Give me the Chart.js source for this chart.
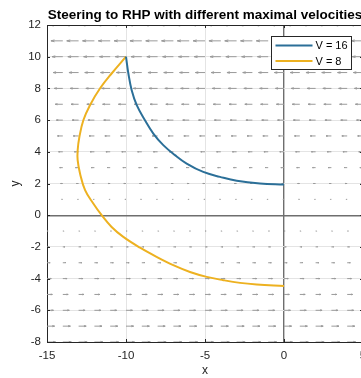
<!DOCTYPE html>
<html>
<head>
<meta charset="utf-8">
<title>Steering to RHP</title>
<script src="https://cdn.jsdelivr.net/npm/chart.js@4"></script>
<style>
    html, body { margin: 0; padding: 0; background: #fff; overflow: hidden; }
    #wrap { width: 380px; height: 378px; }
</style>
</head>
<body>
<div id="wrap"><canvas id="chart" width="380" height="378"></canvas></div>
<script>
// Steering trajectories

// V = 16 trajectory
const fastX = [-10, -9.85, -9.64, -9.32, -8.80, -8.27, -7.64, -6.90, -6.16, -5.11, -4.05, -2.99, -1.52, 0];
const fastY = [10, 8.94, 7.89, 6.94, 5.99, 5.15, 4.42, 3.79, 3.26, 2.73, 2.42, 2.17, 2.00, 1.94];

// V = 8 trajectory
const slowX = [-10, -10.91, -11.65, -12.28, -12.70, -12.95, -13.06, -13.06, -12.91, -12.59, -12.07, -11.54, -10.91, -10.17, -9.11, -8.06, -7.01, -5.95, -4.89, -3.84, -2.78, -1.73, 0];
const slowY = [10, 8.94, 7.99, 6.94, 5.99, 4.94, 4.10, 3.47, 2.63, 1.58, 0.74, 0, -0.74, -1.37, -2.05, -2.63, -3.15, -3.58, -3.89, -4.10, -4.27, -4.37, -4.47];

// Quiver field: grid columns, rows and the horizontal arrow length per row
const quiverX = [-15, -14, -13, -12, -11, -10, -9, -8, -7, -6, -5, -4, -3, -2, -1, 0, 1, 2, 3, 4, 5];
const quiverY = [12, 11, 10, 9, 8, 7, 6, 5, 4, 3, 2, 1, 0, -1, -2, -3, -4, -5, -6, -7, -8];
const quiverU = [-0.82, -0.75, -0.68, -0.61, -0.54, -0.48, -0.41, -0.34, -0.27, -0.20, -0.14, -0.07, 0,
                 0.07, 0.14, 0.20, 0.27, 0.34, 0.41, 0.48, 0.54];

// Tick labels
const xTickValues = [-15, -10, -5, 0, 5];
const yTickValues = [-8, -6, -4, -2, 0, 2, 4, 6, 8, 10, 12];

const FONT = "'Liberation Sans', Arial, Helvetica, sans-serif";
const BLUE = '#2b6f98';
const YELLOW = '#edb120';
const INK = '#262626';

// Build arrow segments (shaft + two barbs), gaps between arrows
function buildQuiver() {
    const pts = [];
    const gap = { x: NaN, y: NaN };
    quiverY.forEach((yv, r) => {
        const u = quiverU[r];
        if (u === 0) return;
        quiverX.forEach(xv => {
            const hx = xv + u;
            const back = 0.3 * u;
            const side = 0.08 * Math.abs(u);
            pts.push({ x: xv, y: yv }, { x: hx, y: yv }, gap);
            pts.push({ x: hx - back, y: yv + side }, { x: hx, y: yv }, { x: hx - back, y: yv - side }, gap);
        });
    });
    return pts;
}

function toPoints(xs, ys) {
    return xs.map((x, i) => ({ x: x, y: ys[i] }));
}

// Frame, inward ticks and the boxed legend
const framePlugin = {
    id: 'frame',
    afterDatasetsDraw(chart) {
        const { ctx, chartArea: a, scales: { x, y } } = chart;
        ctx.save();
        ctx.strokeStyle = INK;
        ctx.lineWidth = 1;
        ctx.beginPath();
        ctx.moveTo(a.left, Math.round(a.top) + 0.5);
        ctx.lineTo(a.right, Math.round(a.top) + 0.5);
        ctx.moveTo(Math.round(a.right) - 0.5, a.top);
        ctx.lineTo(Math.round(a.right) - 0.5, a.bottom);
        xTickValues.forEach(v => {
            const px = Math.round(x.getPixelForValue(v)) + 0.5;
            ctx.moveTo(px, a.bottom); ctx.lineTo(px, a.bottom - 3);
            ctx.moveTo(px, a.top); ctx.lineTo(px, a.top + 3);
        });
        yTickValues.forEach(v => {
            const py = Math.round(y.getPixelForValue(v)) + 0.5;
            ctx.moveTo(a.left, py); ctx.lineTo(a.left + 3, py);
            ctx.moveTo(a.right, py); ctx.lineTo(a.right - 3, py);
        });
        ctx.stroke();

        // legend
        const bx = Math.round(a.right - 92) + 0.5;
        const by = Math.round(a.top + 11) + 0.5;
        ctx.fillStyle = '#fff';
        ctx.fillRect(bx, by, 80, 33);
        ctx.strokeRect(bx, by, 80, 33);
        ctx.font = '11px ' + FONT;
        ctx.textBaseline = 'middle';
        ctx.textAlign = 'left';
        chart.data.datasets.filter(d => d.inLegend).forEach((d, i) => {
            const ly = by + 9 + i * 15.5;
            ctx.strokeStyle = d.borderColor;
            ctx.lineWidth = 2;
            ctx.beginPath();
            ctx.moveTo(bx + 4, ly);
            ctx.lineTo(bx + 41, ly);
            ctx.stroke();
            ctx.fillStyle = '#000';
            ctx.fillText(d.label, bx + 44, ly + 0.5);
        });
        ctx.restore();
    }
};

const gridColor = c => (c.tick && c.tick.value === 0) ? '#6e6e6e' : '#e4e4e4';
const gridWidth = c => (c.tick && c.tick.value === 0) ? 1.4 : 1;

new Chart(document.getElementById('chart'), {
    type: 'line',
    data: {
        datasets: [
            {
                label: 'V = 16',
                inLegend: true,
                data: toPoints(fastX, fastY),
                borderColor: BLUE,
                borderWidth: 2,
                pointRadius: 0,
                tension: 0.4,
                fill: false
            },
            {
                label: 'V = 8',
                inLegend: true,
                data: toPoints(slowX, slowY),
                borderColor: YELLOW,
                borderWidth: 2,
                pointRadius: 0,
                tension: 0.4,
                fill: false
            },
            {
                label: 'field',
                data: buildQuiver(),
                borderColor: '#9a9a9a',
                borderWidth: 1,
                pointRadius: 0,
                tension: 0,
                spanGaps: false,
                fill: false
            }
        ]
    },
    options: {
        responsive: false,
        animation: false,
        devicePixelRatio: 1,
        layout: { padding: { left: 0, right: 17, top: 0, bottom: 0 } },
        plugins: {
            legend: { display: false },
            tooltip: { enabled: false },
            title: {
                display: true,
                text: 'Steering to RHP with different maximal velocities',
                fullSize: false,
                color: '#000',
                font: { family: FONT, size: 13.5, weight: 'bold' },
                padding: { top: 7, bottom: 1.8 }
            }
        },
        scales: {
            x: {
                type: 'linear',
                min: -15,
                max: 5,
                afterBuildTicks: s => { s.ticks = xTickValues.map(v => ({ value: v })); },
                afterFit: s => { s.height = 36; },
                ticks: { color: INK, font: { family: FONT, size: 11.5 }, padding: 7, maxRotation: 0 },
                grid: { color: gridColor, lineWidth: gridWidth, drawTicks: false },
                border: { color: INK, width: 1 },
                title: { display: true, text: 'x', color: INK, font: { family: FONT, size: 12 }, padding: { top: 0, bottom: 0 } }
            },
            y: {
                type: 'linear',
                min: -8,
                max: 12,
                afterBuildTicks: s => { s.ticks = yTickValues.map(v => ({ value: v })); },
                afterFit: s => { s.width = 47; },
                ticks: { color: INK, font: { family: FONT, size: 11.5 }, padding: 6 },
                grid: { color: gridColor, lineWidth: gridWidth, drawTicks: false },
                border: { color: INK, width: 1 },
                title: { display: true, text: 'y', color: INK, font: { family: FONT, size: 12 }, padding: { top: 8, bottom: 0 } }
            }
        }
    },
    plugins: [framePlugin]
});
</script>
</body>
</html>
